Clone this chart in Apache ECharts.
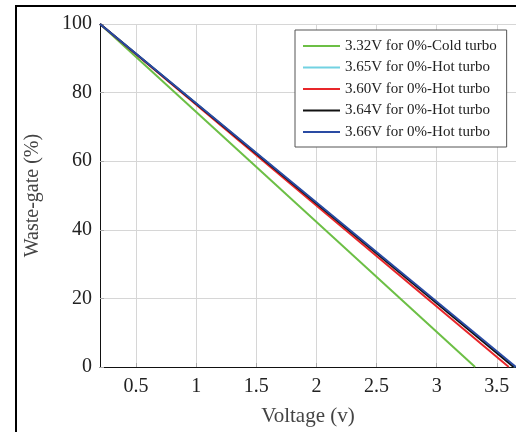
<!DOCTYPE html>
<html>
<head>
<meta charset="utf-8">
<script src="https://cdn.jsdelivr.net/npm/echarts@6/dist/echarts.min.js"></script>
<style>
  html, body { margin: 0; padding: 0; background: #fff; }
  #chart { width: 516px; height: 432px; }
</style>
</head>
<body>
<div id="chart"></div>
<script>
// data
var startVoltage = 0.2
var seriesNames = ['3.32V for 0%-Cold turbo', '3.65V for 0%-Hot turbo', '3.60V for 0%-Hot turbo', '3.64V for 0%-Hot turbo', '3.66V for 0%-Hot turbo']
var zeroVoltages = [3.32, 3.65, 3.60, 3.64, 3.66]
var xTicks = [0.5, 1, 1.5, 2, 2.5, 3, 3.5]
var lineColors = ['#6cbf45', '#72d2e2', '#e8262a', '#111111', '#2a4ba3']

var font = 'Liberation Serif, Times New Roman, serif'
var myChart = echarts.init(document.getElementById('chart'))

var series = seriesNames.map(function (name, i) {
  return {
    name: name,
    type: 'line',
    symbol: 'none',
    data: [[startVoltage, 100], [zeroVoltages[i], 0]],
    lineStyle: { width: 2, color: lineColors[i] },
    itemStyle: { color: lineColors[i] }
  }
})

var option = {
  animation: false,
  textStyle: { fontFamily: font },
  grid: { left: 100, right: 0, top: 24, bottom: 63 },
  graphic: [{
    type: 'rect',
    shape: { x: 16, y: 6, width: 600, height: 500 },
    style: { fill: 'none', stroke: '#000', lineWidth: 2 },
    silent: true
  }],
  legend: {
    orient: 'vertical',
    left: 295,
    top: 30,
    padding: [8, 10, 7, 8],
    itemWidth: 37,
    itemHeight: 2,
    itemGap: 5.5,
    icon: 'rect',
    backgroundColor: '#fff',
    borderColor: '#555',
    borderWidth: 1,
    textStyle: { fontFamily: font, fontSize: 15, color: '#222', lineHeight: 16, padding: [0, 0, 0, 0] },
    data: seriesNames
  },
  xAxis: {
    type: 'value',
    min: startVoltage,
    max: 3.66,
    name: 'Voltage (v)',
    nameLocation: 'middle',
    nameGap: 39,
    nameTextStyle: { fontFamily: font, fontSize: 21, color: '#444' },
    axisLine: { onZero: false, lineStyle: { color: '#111', width: 1 } },
    axisTick: { customValues: xTicks, inside: true, length: 4, lineStyle: { color: '#aaa' } },
    axisLabel: { customValues: xTicks, fontFamily: font, fontSize: 20, color: '#222', margin: 10 },
    splitLine: { show: true, lineStyle: { color: '#d6d6d6', width: 1 } }
  },
  yAxis: {
    type: 'value',
    min: 0,
    max: 100,
    interval: 20,
    name: 'Waste-gate (%)',
    nameLocation: 'middle',
    nameGap: 57,
    nameTextStyle: { fontFamily: font, fontSize: 20, color: '#444' },
    axisLine: { show: true, lineStyle: { color: '#111', width: 1 } },
    axisTick: { show: true, inside: true, length: 4, lineStyle: { color: '#aaa' } },
    axisLabel: { fontFamily: font, fontSize: 20, color: '#222', margin: 8 },
    splitLine: { show: true, lineStyle: { color: '#d6d6d6', width: 1 } }
  },
  series: series
}
myChart.setOption(option)
</script>
</body>
</html>
